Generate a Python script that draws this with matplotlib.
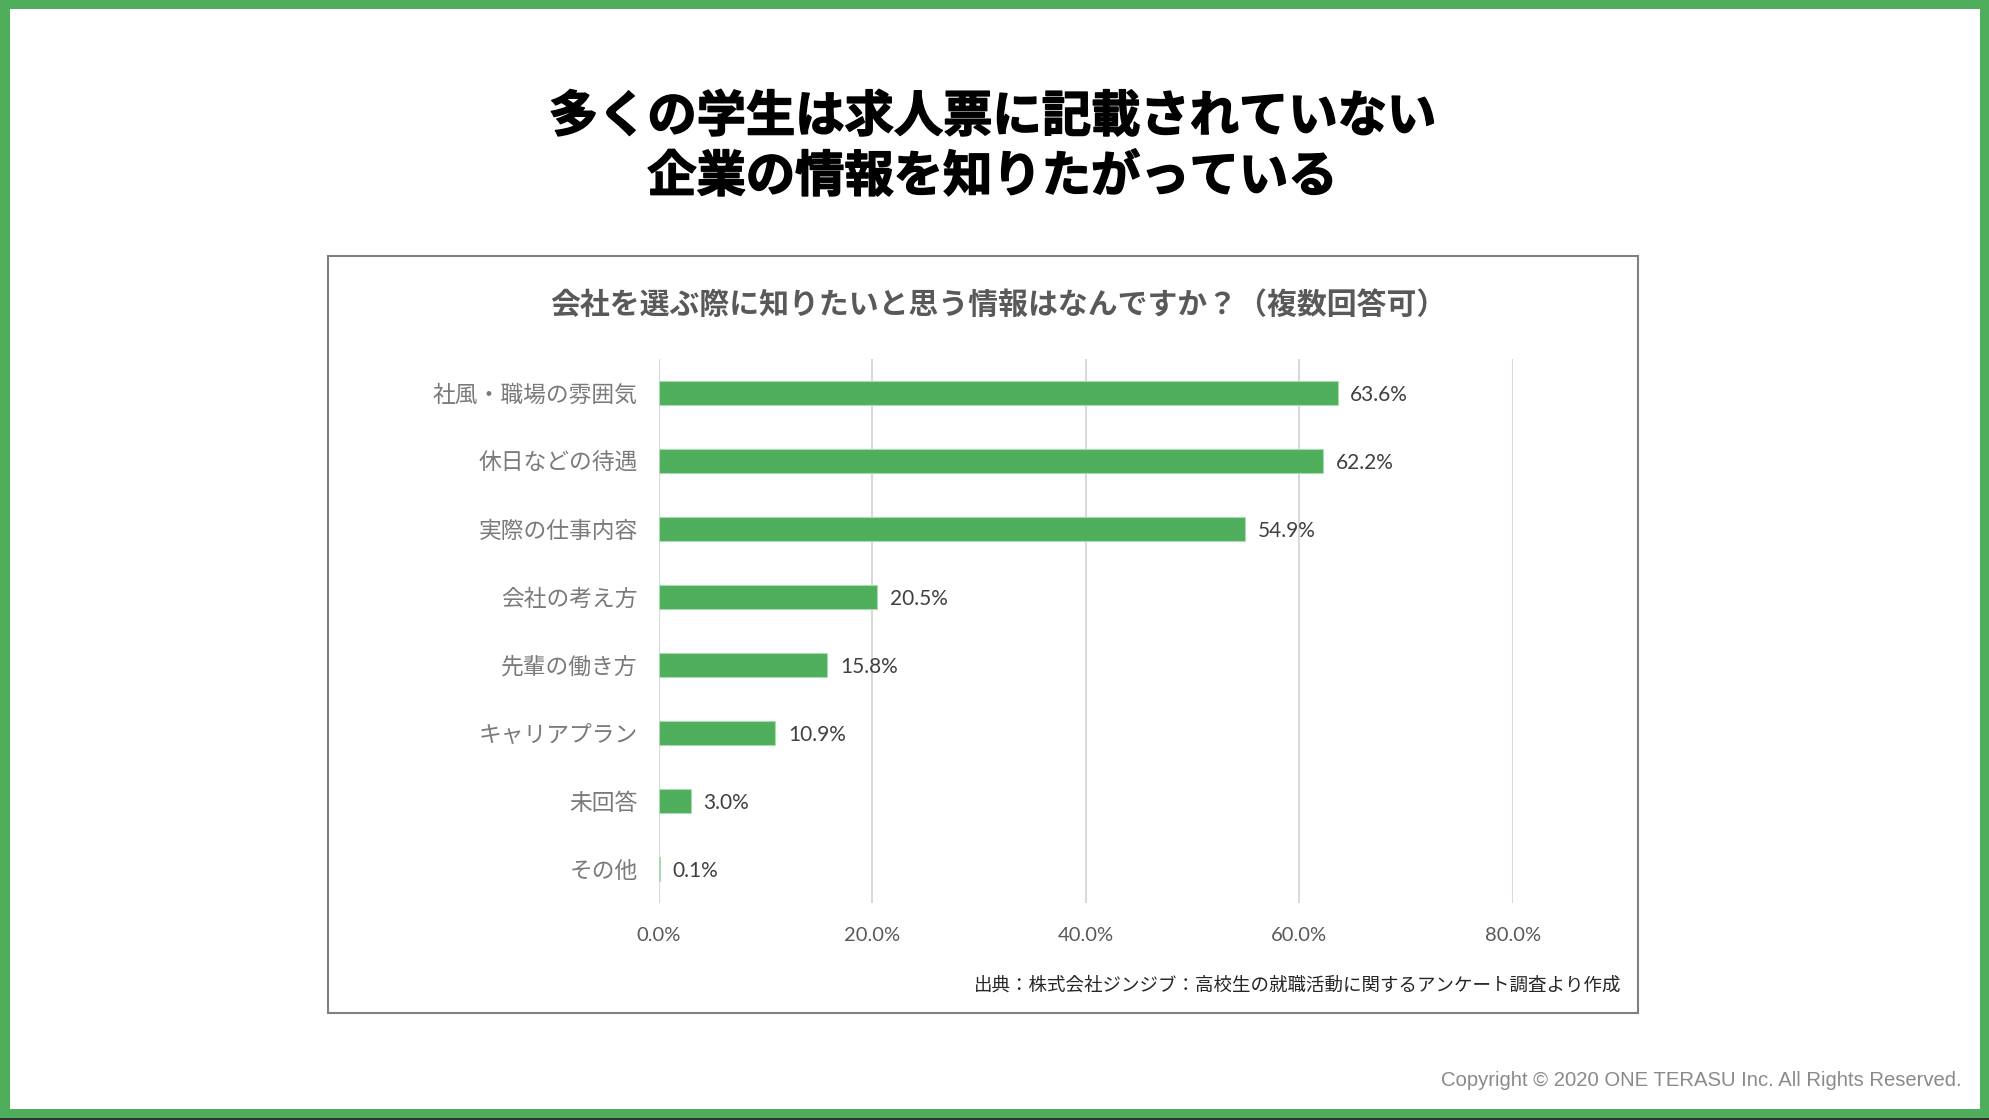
import matplotlib
matplotlib.use("Agg")
import matplotlib.pyplot as plt
import matplotlib.patheffects as pe
from matplotlib.patches import Rectangle

plt.rcParams["font.family"] = ["Noto Sans CJK JP", "DejaVu Sans"]

# data
categories = ["社風・職場の雰囲気", "休日などの待遇", "実際の仕事内容", "会社の考え方",
              "先輩の働き方", "キャリアプラン", "未回答", "その他"]
values = [63.6, 62.2, 54.9, 20.5, 15.8, 10.9, 3.0, 0.1]
xticks = [0, 20, 40, 60, 80]

title_lines = ["多くの学生は求人票に記載されていない", "企業の情報を知りたがっている"]
subtitle = "会社を選ぶ際に知りたいと思う情報はなんですか？（複数回答可）"
source = "出典：株式会社ジンジブ：高校生の就職活動に関するアンケート調査より作成"
copyright_txt = "Copyright © 2020 ONE TERASU Inc. All Rights Reserved."

GREEN = "#4fae5c"
W, H = 1990, 1120
fig = plt.figure(figsize=(W / 100, H / 100), dpi=100)


def fx(px):
    return px / W


def fy(py):
    return 1 - py / H


# green frame
for (x0, y0, w, h) in [(0, 0, W, 9), (0, 0, 10, H), (W - 10, 0, 10, H), (0, H - 11, W, 11)]:
    fig.add_artist(Rectangle((fx(x0), fy(y0 + h)), w / W, h / H, transform=fig.transFigure,
                             facecolor=GREEN, edgecolor="none", zorder=0))
fig.add_artist(Rectangle((0, 0), 1, 2 / H, transform=fig.transFigure,
                         facecolor="#333333", edgecolor="none", zorder=1))

# headline (heavy look: bold + thin stroke)
heavy = [pe.withStroke(linewidth=1.1, foreground="black")]
fig.text(fx(992), fy(117), title_lines[0], ha="center", va="center", fontsize=35.5,
         fontweight="bold", color="black", path_effects=heavy)
fig.text(fx(992), fy(177), title_lines[1], ha="center", va="center", fontsize=35.5,
         fontweight="bold", color="black", path_effects=heavy)

# chart box
fig.add_artist(Rectangle((fx(328), fy(1013)), (1638 - 328) / W, (1013 - 256) / H,
                         transform=fig.transFigure, facecolor="white", edgecolor="#808080",
                         linewidth=1.5, zorder=1))
fig.text(fx(998), fy(305), subtitle, ha="center", va="center", fontsize=21.5, color="#595959",
         fontweight="bold", zorder=3)

ax = fig.add_axes([fx(658.6), fy(903), (1512.6 - 658.6) / W, (903 - 359) / H], zorder=2)
ax.patch.set_alpha(0)
ypos = list(range(len(categories)))
ax.barh(ypos, values, height=0.35, color=GREEN, edgecolor="#a8dbb0", linewidth=0.8, zorder=3)
for y, v in zip(ypos, values):
    ax.text(v + 1.2, y + 0.03, f"{v:.1f}%", va="center", ha="left", fontsize=15, color="#404040",
            family=["Lato", "DejaVu Sans"])
ax.set_xlim(0, 80)
ax.set_ylim(len(categories) - 0.5, -0.5)
ax.set_xticks(xticks)
ax.set_xticklabels([f"{t:.1f}%" for t in xticks], fontsize=14.5, color="#595959",
                   family=["Lato", "DejaVu Sans"])
ax.set_yticks(ypos)
ax.set_yticklabels(categories, fontsize=16.4, color="#7a7a7a")
ax.tick_params(axis="x", length=0, pad=17)
ax.tick_params(axis="y", length=0, pad=15)
ax.grid(axis="x", color="#d9d9d9", linewidth=1.5, zorder=0)
ax.set_axisbelow(True)
for s in ax.spines.values():
    s.set_visible(False)

fig.text(fx(1621), fy(986), source, ha="right", va="center", fontsize=13.3, color="#262626",
         zorder=3)
fig.text(fx(1962), fy(1080), copyright_txt, ha="right", va="center", fontsize=14.6,
         color="#8a8a8a", family=["Liberation Sans", "DejaVu Sans"], zorder=3)

fig.savefig("out.png", dpi=100)
